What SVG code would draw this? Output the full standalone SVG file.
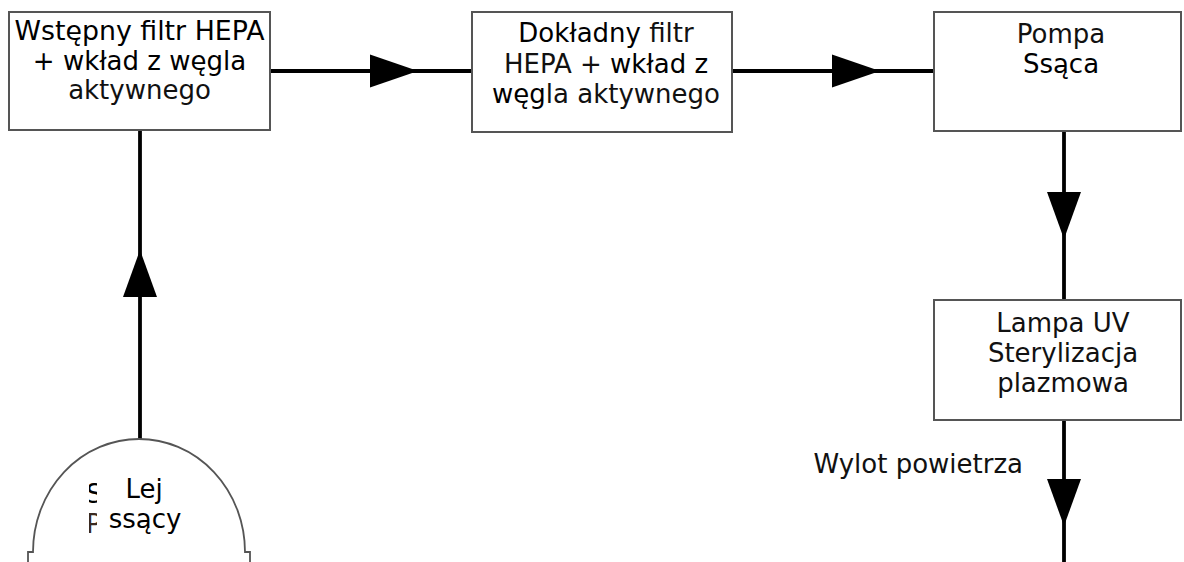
<svg xmlns="http://www.w3.org/2000/svg" width="1184" height="562" viewBox="0 0 1184 562">
  <style>
    .box { fill: #ffffff; stroke: #555555; stroke-width: 2; }
    .wire { fill: none; stroke: #000000; stroke-width: 3.8; }
    .head { fill: #000000; stroke: none; }
    .lbl { font-family: "DejaVu Sans", Verdana, sans-serif; font-size: 26px; fill: #111111; text-anchor: middle; }
    .dark { fill: #000000; }
    .outline { fill: #ffffff; stroke: #555555; stroke-width: 1.8; }
  </style>
  <defs>
    <clipPath id="fragClip">
      <rect x="89" y="480" width="8" height="60"/>
    </clipPath>
  </defs>
  <rect width="1184" height="562" fill="#ffffff"/>

  <g id="connectors">
    <line class="wire" x1="270" y1="71" x2="472" y2="71"/>
    <polygon class="head" points="370,54.5 418,71 370,87.5"/>
    <line class="wire" x1="732" y1="71" x2="934" y2="71"/>
    <polygon class="head" points="832,54.5 880,71 832,87.5"/>
    <line class="wire" x1="1064" y1="131" x2="1064" y2="300"/>
    <polygon class="head" points="1047,192 1081,192 1064,239"/>
    <line class="wire" x1="1064" y1="420" x2="1064" y2="562"/>
    <polygon class="head" points="1047,479 1081,479 1064,526"/>
    <line class="wire" x1="140" y1="130" x2="140" y2="440"/>
    <polygon class="head" points="123,297 157,297 140,250"/>
  </g>

  <g id="node-prefilter">
    <rect class="box" x="9" y="12" width="261" height="118"/>
    <text class="lbl dark" x="139.5" y="40" textLength="250" lengthAdjust="spacingAndGlyphs">Wstępny filtr HEPA</text>
    <text class="lbl dark" x="139.5" y="70">+ wkład z węgla</text>
    <text class="lbl" x="139.5" y="99">aktywnego</text>
  </g>

  <g id="node-finefilter">
    <rect class="box" x="472" y="12" width="260" height="120"/>
    <text class="lbl" x="606" y="42"><tspan class="dark">Dokładny</tspan> filtr</text>
    <text class="lbl" x="606" y="73">HEPA + <tspan class="dark">wkład z</tspan></text>
    <text class="lbl" x="606" y="103"><tspan class="dark">węg</tspan>la aktywnego</text>
  </g>

  <g id="node-pump">
    <rect class="box" x="934" y="12" width="247" height="119"/>
    <text class="lbl" x="1061" y="43">Pompa</text>
    <text class="lbl dark" x="1061" y="73">Ssąca</text>
  </g>

  <g id="node-uv">
    <rect class="box" x="934" y="300" width="247" height="120"/>
    <text class="lbl" x="1063" y="332">Lampa UV</text>
    <text class="lbl" x="1063" y="362">Sterylizacja</text>
    <text class="lbl" x="1063" y="392">plazmowa</text>
  </g>

  <g id="node-outlet">
    <text class="lbl" x="1023" y="473" style="text-anchor:end">Wylot powietrza</text>
  </g>

  <g id="node-funnel">
    <path class="outline" d="M 28 563 L 28 552 L 33 552 A 106 113 0 0 1 245 552 L 250 552 L 250 563"/>
    <g clip-path="url(#fragClip)">
      <text class="lbl dark" x="86" y="503" style="text-anchor:start">S</text>
      <text class="lbl" x="86" y="533" style="text-anchor:start;fill:#3a2a20">P</text>
    </g>
    <text class="lbl dark" x="144" y="498">Lej</text>
    <text class="lbl dark" x="145" y="528">ssący</text>
  </g>
</svg>
